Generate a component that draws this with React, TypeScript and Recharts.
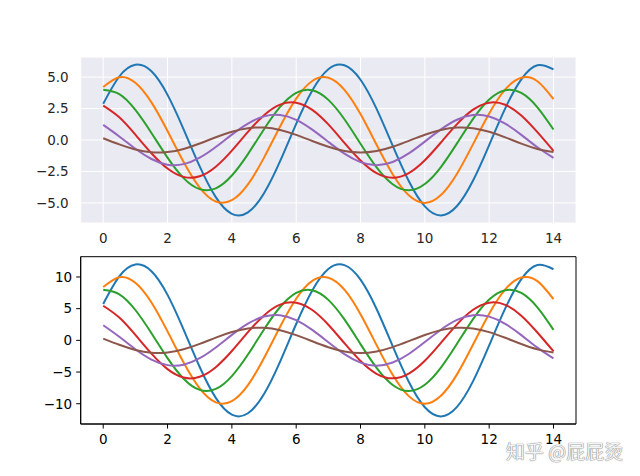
import { LineChart, Line, XAxis, YAxis, CartesianGrid, ReferenceArea } from "recharts";

const xs = [0, 0.5, 1, 1.5, 2, 2.5, 3, 3.5, 4, 4.5, 5, 5.5, 6, 6.5, 7, 7.5, 8, 8.5, 9, 9.5, 10, 10.5, 11, 11.5, 12, 12.5, 13, 13.5, 14];
const xTicks = [0, 2, 4, 6, 8, 10, 12, 14];
const topYTicks = [-5, -2.5, 0, 2.5, 5];
const bottomYTicks = [-10, -5, 0, 5, 10];

const colors = ["#1f77b4", "#ff7f0e", "#2ca02c", "#d62728", "#9467bd", "#8c564b"];

// top panel (darkgrid)
const topBlue = [2.88, 5.05, 5.98, 5.46, 3.59, 0.85, -2.1, -4.54, -5.87, -5.75, -4.23, -1.68, 1.29, 3.94, 5.63, 5.94, 4.79, 2.47, -0.45, -3.26, -5.28, -6.0, -5.25, -3.22, -0.4, 2.52, 4.82, 5.94, 5.61];
const topOrange = [4.21, 4.99, 4.55, 2.99, 0.71, -1.75, -3.78, -4.89, -4.79, -3.53, -1.4, 1.08, 3.29, 4.69, 4.95, 3.99, 2.06, -0.38, -2.72, -4.4, -5.0, -4.38, -2.68, -0.33, 2.1, 4.02, 4.95, 4.67, 3.25];
const topGreen = [3.99, 3.64, 2.39, 0.56, -1.4, -3.03, -3.91, -3.84, -2.82, -1.12, 0.86, 2.63, 3.75, 3.96, 3.19, 1.65, -0.3, -2.18, -3.52, -4.0, -3.5, -2.15, -0.27, 1.68, 3.22, 3.96, 3.74, 2.6, 0.83];
const topRed = [2.73, 1.8, 0.42, -1.05, -2.27, -2.93, -2.88, -2.12, -0.84, 0.65, 1.97, 2.81, 2.97, 2.4, 1.24, -0.23, -1.63, -2.64, -3.0, -2.63, -1.61, -0.2, 1.26, 2.41, 2.97, 2.8, 1.95, 0.62, -0.86];
const topPurple = [1.2, 0.28, -0.7, -1.51, -1.96, -1.92, -1.41, -0.56, 0.43, 1.31, 1.88, 1.98, 1.6, 0.82, -0.15, -1.09, -1.76, -2.0, -1.75, -1.07, -0.13, 0.84, 1.61, 1.98, 1.87, 1.3, 0.41, -0.58, -1.42];
const topBrown = [0.14, -0.35, -0.76, -0.98, -0.96, -0.71, -0.28, 0.22, 0.66, 0.94, 0.99, 0.8, 0.41, -0.08, -0.54, -0.88, -1.0, -0.88, -0.54, -0.07, 0.42, 0.8, 0.99, 0.93, 0.65, 0.21, -0.29, -0.71, -0.96];

// bottom panel (white)
const botBlue = [5.75, 10.1, 11.97, 10.91, 7.18, 1.69, -4.21, -9.08, -11.73, -11.51, -8.47, -3.35, 2.58, 7.88, 11.26, 11.87, 9.58, 4.95, -0.9, -6.53, -10.56, -12.0, -10.5, -6.44, -0.8, 5.04, 9.65, 11.89, 11.22];
const botOrange = [8.41, 9.97, 9.09, 5.98, 1.41, -3.51, -7.57, -9.78, -9.59, -7.06, -2.79, 2.15, 6.57, 9.38, 9.89, 7.99, 4.12, -0.75, -5.44, -8.8, -10.0, -8.75, -5.37, -0.66, 4.2, 8.04, 9.91, 9.35, 6.5];
const botGreen = [7.98, 7.27, 4.79, 1.13, -2.81, -6.05, -7.82, -7.67, -5.64, -2.24, 1.72, 5.26, 7.5, 7.92, 6.39, 3.3, -0.6, -4.35, -7.04, -8.0, -7.0, -4.29, -0.53, 3.36, 6.43, 7.92, 7.48, 5.2, 1.65];
const botRed = [5.46, 3.59, 0.85, -2.1, -4.54, -5.87, -5.75, -4.23, -1.68, 1.29, 3.94, 5.63, 5.94, 4.79, 2.47, -0.45, -3.26, -5.28, -6.0, -5.25, -3.22, -0.4, 2.52, 4.82, 5.94, 5.61, 3.9, 1.24, -1.73];
const botPurple = [2.39, 0.56, -1.4, -3.03, -3.91, -3.84, -2.82, -1.12, 0.86, 2.63, 3.75, 3.96, 3.19, 1.65, -0.3, -2.18, -3.52, -4.0, -3.5, -2.15, -0.27, 1.68, 3.22, 3.96, 3.74, 2.6, 0.83, -1.15, -2.85];
const botBrown = [0.28, -0.7, -1.51, -1.96, -1.92, -1.41, -0.56, 0.43, 1.31, 1.88, 1.98, 1.6, 0.82, -0.15, -1.09, -1.76, -2.0, -1.75, -1.07, -0.13, 0.84, 1.61, 1.98, 1.87, 1.3, 0.41, -0.58, -1.42, -1.92];

const topSeries = [topBlue, topOrange, topGreen, topRed, topPurple, topBrown];
const botSeries = [botBlue, botOrange, botGreen, botRed, botPurple, botBrown];

const toRows = (series: number[][]) =>
  xs.map((x, i) => {
    const row: Record<string, number> = { x };
    series.forEach((s, j) => (row["s" + j] = s[i]));
    return row;
  });

const topData = toRows(topSeries);
const botData = toRows(botSeries);

const FONT = "'DejaVu Sans', sans-serif";
const minus = (s: string) => s.replace("-", "\u2212");

const App = () => {
  return (
    <div style={{ position: "fixed", left: 0, top: 0, width: 640, height: 476, background: "#fff", fontFamily: FONT }}>
      <div style={{ position: "absolute", left: 0, top: 0 }}>
        <LineChart width={640} height={253} data={topData} margin={{ top: 57, right: 64, bottom: 0, left: 0 }}>
          <CartesianGrid fill="#eaeaf2" stroke="#ffffff" strokeWidth={1} />
          <XAxis
            dataKey="x"
            type="number"
            domain={[-0.7, 14.7]}
            ticks={xTicks}
            height={30}
            axisLine={false}
            tickLine={false}
            tickSize={8}
            tickMargin={2}
            tick={{ fill: "#262626", fontSize: 13.5, fontFamily: FONT }}
          />
          <YAxis
            type="number"
            domain={[-6.6, 6.6]}
            ticks={topYTicks}
            width={80.7}
            axisLine={false}
            tickLine={false}
            tickSize={10}
            tickMargin={2}
            tickFormatter={(v: number) => minus(v.toFixed(1))}
            tick={{ fill: "#262626", fontSize: 13.5, fontFamily: FONT }}
          />
          {topSeries.map((_, j) => (
            <Line key={j} type="natural" dataKey={"s" + j} stroke={colors[j]} strokeWidth={2} dot={false} isAnimationActive={false} />
          ))}
        </LineChart>
      </div>
      <div style={{ position: "absolute", left: 0, top: 226 }}>
        <LineChart width={640} height={228} data={botData} margin={{ top: 30.7, right: 64, bottom: 0, left: 0 }}>
          <XAxis
            dataKey="x"
            type="number"
            domain={[-0.7, 14.7]}
            ticks={xTicks}
            height={30}
            axisLine={{ stroke: "#000", strokeWidth: 1 }}
            tickLine={{ stroke: "#000" }}
            tickSize={4.5}
            tickMargin={6}
            tick={{ fill: "#000", fontSize: 13.5, fontFamily: FONT }}
          />
          <YAxis
            type="number"
            domain={[-13.2, 13.2]}
            ticks={bottomYTicks}
            width={80.7}
            axisLine={{ stroke: "#000", strokeWidth: 1 }}
            tickLine={{ stroke: "#000" }}
            tickSize={4.5}
            tickMargin={4}
            tickFormatter={(v: number) => minus(String(v))}
            tick={{ fill: "#000", fontSize: 13.5, fontFamily: FONT }}
          />
          {botSeries.map((_, j) => (
            <Line key={j} type="natural" dataKey={"s" + j} stroke={colors[j]} strokeWidth={2} dot={false} isAnimationActive={false} />
          ))}
          <ReferenceArea x1={-0.7} x2={14.7} y1={-13.2} y2={13.2} stroke="#000" strokeWidth={1} fill="none" fillOpacity={0} ifOverflow="visible" />
        </LineChart>
      </div>
      <div
        style={{
          position: "absolute",
          left: 506,
          top: 437,
          fontFamily: "'Noto Sans CJK SC', sans-serif",
          fontSize: 19,
          color: "#f4f4f4",
          textShadow: "0 0 1px #777, 0 0 1px #777",
          whiteSpace: "nowrap",
        }}
      >
        知乎 @屁屁烫
      </div>
    </div>
  );
};

export default App;
